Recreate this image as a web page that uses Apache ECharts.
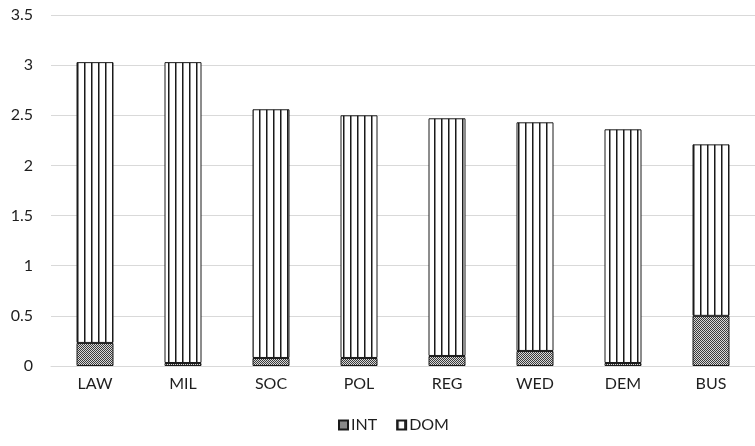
<!DOCTYPE html>
<html>
<head>
<meta charset="utf-8">
<script src="https://cdn.jsdelivr.net/npm/echarts@6/dist/echarts.min.js"></script>
<style>
html,body{margin:0;padding:0;background:#fff;}
#main{width:755px;height:446px;}
</style>
</head>
<body>
<div id="main"></div>
<script>
var categories = ['LAW', 'MIL', 'SOC', 'POL', 'REG', 'WED', 'DEM', 'BUS'];
var intValues = [0.23, 0.03, 0.08, 0.08, 0.10, 0.15, 0.03, 0.50];
var domValues = [2.80, 3.00, 2.48, 2.42, 2.37, 2.28, 2.33, 1.71];
var seriesNames = ['INT', 'DOM'];

function makeStripe() {
  var c = document.createElement('canvas');
  c.width = 7; c.height = 4;
  var g = c.getContext('2d');
  g.fillStyle = '#ffffff'; g.fillRect(0, 0, 7, 4);
  g.fillStyle = '#1a1a1a'; g.fillRect(0, 0, 1, 4);
  g.fillStyle = '#8a8a8a'; g.fillRect(1, 0, 1, 4);
  return c;
}
function makeChecker() {
  var c = document.createElement('canvas');
  c.width = 2; c.height = 2;
  var g = c.getContext('2d');
  g.fillStyle = '#d8d8d8'; g.fillRect(0, 0, 2, 2);
  g.fillStyle = '#3a3a3a'; g.fillRect(0, 0, 1, 1); g.fillRect(1, 1, 1, 1);
  return c;
}

var chart = echarts.init(document.getElementById('main'), null, {renderer: 'canvas'});
var font = 'Lato, "Open Sans", sans-serif';
chart.setOption({
  animation: false,
  textStyle: {fontFamily: font},
  grid: {left: 51, right: -9, top: 15, bottom: 80},
  legend: {
    data: seriesNames,
    bottom: 8,
    left: 333,
    icon: 'rect',
    itemWidth: 9,
    itemHeight: 9,
    itemGap: 19,
    textStyle: {fontFamily: font, fontSize: 16, color: '#1e1e1e', padding: [0, 0, 0, -2]}
  },
  xAxis: {
    type: 'category',
    data: categories,
    axisLine: {show: true, lineStyle: {color: '#d9d9d9', width: 1}},
    axisTick: {show: false},
    axisLabel: {fontFamily: font, fontSize: 16, color: '#1e1e1e', margin: 10}
  },
  yAxis: {
    type: 'value',
    min: 0,
    max: 3.5,
    interval: 0.5,
    axisLine: {show: false},
    axisTick: {show: false},
    splitLine: {lineStyle: {color: '#d9d9d9', width: 1}},
    axisLabel: {fontFamily: font, fontSize: 16, color: '#1e1e1e', margin: 18}
  },
  series: [
    {
      name: seriesNames[0],
      type: 'bar',
      stack: 'total',
      barWidth: 37,
      data: intValues,
      itemStyle: {color: {image: makeChecker(), repeat: 'repeat'}, borderColor: '#1a1a1a', borderWidth: 1}
    },
    {
      name: seriesNames[1],
      type: 'bar',
      stack: 'total',
      barWidth: 37,
      data: domValues,
      itemStyle: {color: {image: makeStripe(), repeat: 'repeat'}, borderColor: '#1a1a1a', borderWidth: 1}
    }
  ]
});
</script>
</body>
</html>
